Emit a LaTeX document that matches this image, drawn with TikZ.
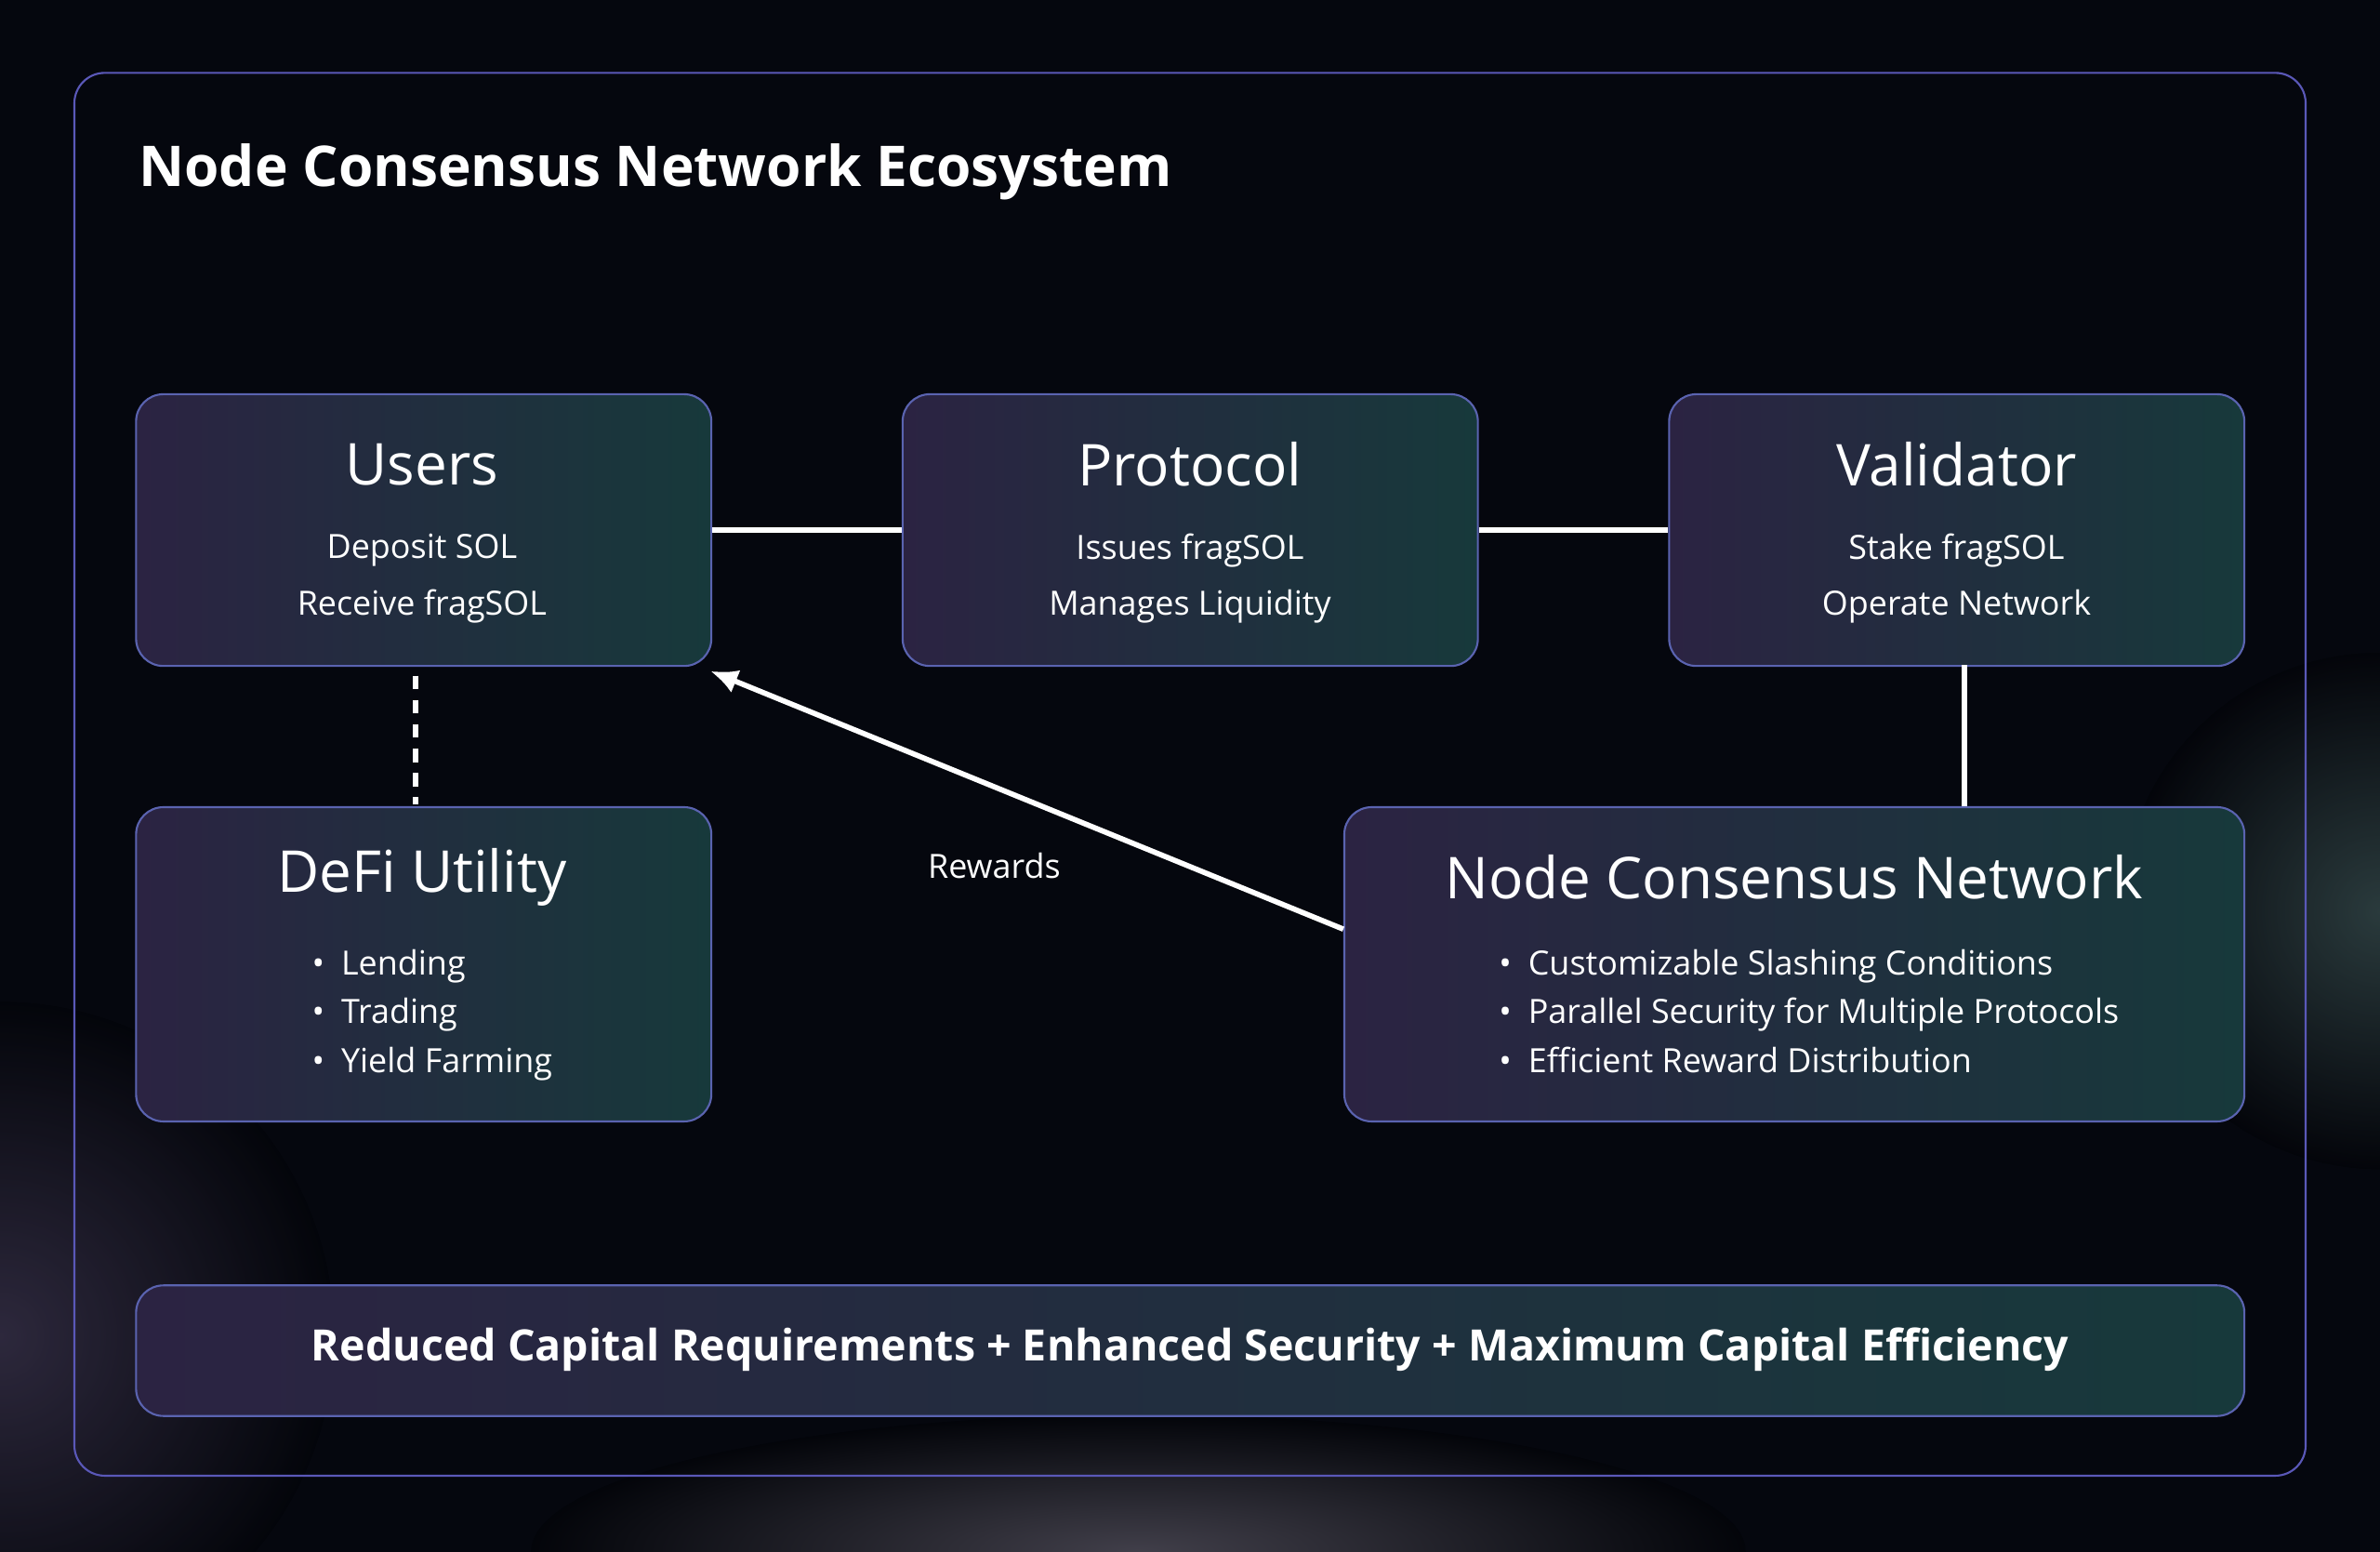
\documentclass[tikz,border=0pt]{standalone}
\usepackage{fontspec}
\setmainfont{Open Sans}
\usetikzlibrary{arrows.meta}
\definecolor{bg}{HTML}{05070E}
\definecolor{bpurple}{HTML}{2B2342}
\definecolor{bteal}{HTML}{17393B}
\definecolor{edge}{HTML}{5A63B0}
\definecolor{frame}{HTML}{5A58B8}
\begin{document}
\begin{tikzpicture}[x=1pt,y=-1pt,
  box/.style={draw=edge,line width=1.3pt,rounded corners=18pt,left color=bpurple,right color=bteal,anchor=north west,inner sep=0pt},
  ttl/.style={text=white,font=\fontsize{38}{44}\selectfont},
  body/.style={text=white,font=\fontsize{22}{37}\selectfont,align=center},
  lst/.style={text=white,font=\fontsize{22}{32}\selectfont,align=left},
  conn/.style={draw=white,line width=3.5pt}]
\useasboundingbox (0,0) rectangle (1568,1022);
\fill[bg] (0,0) rectangle (1568,1022);
\fill[inner color=bteal!80,outer color=bg,opacity=0.6] (1568,600) circle (170);
\fill[inner color=bpurple!90,outer color=bg,opacity=0.7] (0,880) circle (220);
\fill[inner color=bpurple!60,outer color=bg,opacity=0.5] (750,1022) ellipse (400 and 90);
\draw[frame,line width=1.3pt,rounded corners=20pt] (49,48) rectangle (1519,972);
\node[anchor=west,text=white,font=\fontsize{37}{44}\selectfont\bfseries] (title) at (88,113) {Node Consensus Network Ecosystem};

\node[box,minimum width=379pt,minimum height=179pt] (users) at (89,259) {};
\node[box,minimum width=379pt,minimum height=179pt] (prot) at (594,259) {};
\node[box,minimum width=379pt,minimum height=179pt] (val) at (1099,259) {};
\node[box,minimum width=379pt,minimum height=207pt] (defi) at (89,531) {};
\node[box,minimum width=593pt,minimum height=207pt] (ncn) at (885,531) {};
\node[box,minimum width=1389pt,minimum height=86pt] (bar) at (89,846) {};

\node[ttl] (ut) at (278,306) {Users};
\node[body] (ub) at (278,381) {Deposit SOL\\Receive fragSOL};
\node[ttl] (pt) at (784,306) {Protocol};
\node[body] (pb) at (784,381) {Issues fragSOL\\Manages Liquidity};
\node[ttl] (vt) at (1289,306) {Validator};
\node[body] (vb) at (1289,381) {Stake fragSOL\\Operate Network};
\node[ttl] (dt) at (278,578) {DeFi Utility};
\node[lst,anchor=north west] (dl) at (202,622) {•\enspace Lending\\•\enspace Trading\\•\enspace Yield Farming};
\node[ttl] (nt) at (1182,578) {Node Consensus Network};
\node[lst,anchor=north west] (nl) at (984,622) {•\enspace Customizable Slashing Conditions\\•\enspace Parallel Security for Multiple Protocols\\•\enspace Efficient Reward Distribution};
\node[text=white,font=\fontsize{28.5}{34}\selectfont\bfseries] (bt) at (784,889) {Reduced Capital Requirements + Enhanced Security + Maximum Capital Efficiency};

\draw[conn] (users.east |- 0,349) -- (prot.west |- 0,349);
\draw[conn] (prot.east |- 0,349) -- (val.west |- 0,349);
\coordinate (v1) at (1294,438); \coordinate (v2) at (1294,531);
\draw[conn] (v1) -- (v2);
\coordinate (d1) at (274,445); \coordinate (d2) at (274,530);
\draw[conn,dash pattern=on 9pt off 7pt] (d1) -- (d2);
\coordinate (a1) at (885,612); \coordinate (a2) at (468,442);
\draw[conn,-{Latex[length=18pt,width=16pt]}] (a1) -- (a2);
\node[text=white,font=\fontsize{22}{27}\selectfont] (rw) at (655,570) {Rewards};
\end{tikzpicture}
\end{document}
